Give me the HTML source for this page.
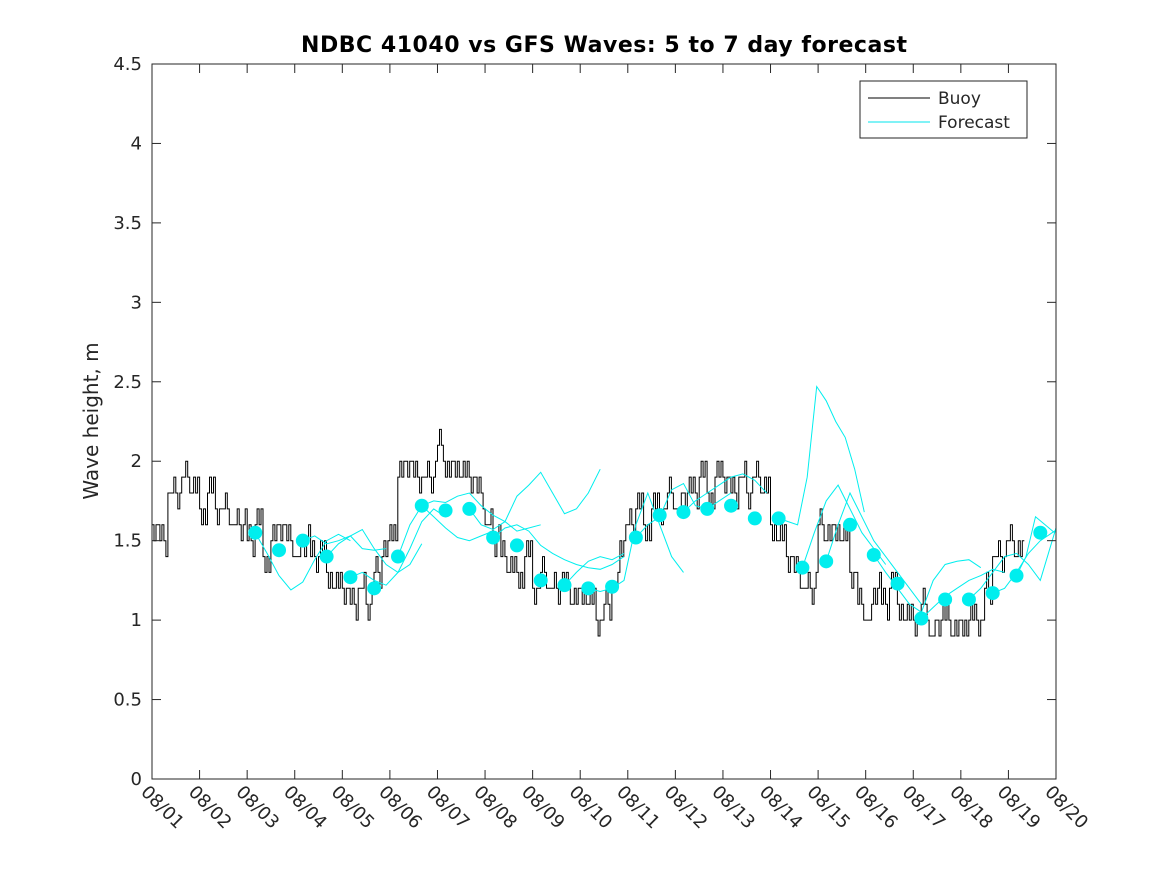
<!DOCTYPE html>
<html><head><meta charset="utf-8"><style>
body{margin:0;background:#fff;}
svg text{font-family:"DejaVu Sans","Liberation Sans",sans-serif;fill:#262626;}
</style></head><body>
<svg id="chart" width="1167" height="875" viewBox="0 0 1167 875" xmlns="http://www.w3.org/2000/svg">
<defs><clipPath id="clip"><rect x="152" y="64" width="904" height="715"/></clipPath></defs>
<rect width="1167" height="875" fill="#fff"/>
<text x="604" y="52" text-anchor="middle" font-size="22" font-weight="bold" style="fill:#000" textLength="606">NDBC 41040 vs GFS Waves: 5 to 7 day forecast</text>
<text transform="translate(98,421) rotate(-90)" text-anchor="middle" font-size="20">Wave height, m</text>
<g id="plot" clip-path="url(#clip)"></g>
<g id="axes"></g>
<g>
<rect x="860" y="81" width="167" height="57" fill="#fff" stroke="#262626" stroke-width="1"/>
<line x1="868" y1="98" x2="930" y2="98" stroke="#000" stroke-width="1"/>
<text x="938" y="104" font-size="17">Buoy</text>
<line x1="868" y1="122" x2="930" y2="122" stroke="#00e5ee" stroke-width="1"/>
<text x="938" y="128" font-size="17">Forecast</text>
</g>
</svg>
<script>
const xTickLabels=["08/01","08/02","08/03","08/04","08/05","08/06","08/07","08/08","08/09","08/10","08/11","08/12","08/13","08/14","08/15","08/16","08/17","08/18","08/19","08/20"];
const yTicks=[0,0.5,1,1.5,2,2.5,3,3.5,4,4.5];
const yTickLabels=["0","0.5","1","1.5","2","2.5","3","3.5","4","4.5"];
// buoy readings, 6 per day starting 08/01
const buoyValues=[
1.6,1.5,1.8,1.8,1.9,1.8, 1.7,1.8,1.7,1.7,1.6,1.6, 1.5,1.6,1.4,1.5,1.6,1.5,
1.4,1.5,1.4,1.4,1.3,1.2, 1.2,1.1,1.2,1.1,1.3,1.4, 1.6,1.9,2.0,1.9,1.9,1.9,
2.1,1.9,2.0,1.9,1.9,1.8, 1.6,1.5,1.4,1.3,1.3,1.4, 1.2,1.3,1.2,1.2,1.2,1.1,
1.2,1.1,1.0,1.1,1.2,1.5, 1.6,1.7,1.6,1.7,1.7,1.8, 1.7,1.8,1.8,1.9,1.8,1.9,
1.9,1.8,1.9,1.8,1.9,1.8, 1.6,1.5,1.4,1.3,1.2,1.2, 1.6,1.5,1.6,1.5,1.3,1.1,
1.0,1.2,1.1,1.2,1.1,1.0, 1.0,1.1,0.9,1.0,1.0,0.9, 1.0,1.0,1.0,1.2,1.4,1.4,
1.5,1.4];
const buoyAlt=[0.1,-0.1,0.1,0,-0.1,0.1,0.1,-0.1];
const dotDays=[2.17,2.67,3.17,3.67,4.17,4.67,5.17,5.67,6.17,6.67,7.17,7.67,8.17,8.67,9.17,9.67,10.17,10.67,11.17,11.67,12.17,12.67,13.17,13.67,14.17,14.67,15.17,15.67,16.17,16.67,17.17,17.67,18.17,18.67];
const dotValues=[1.55,1.44,1.5,1.4,1.27,1.2,1.4,1.72,1.69,1.70,1.52,1.47,1.25,1.22,1.2,1.21,1.52,1.66,1.68,1.70,1.72,1.64,1.64,1.33,1.37,1.6,1.41,1.23,1.01,1.13,1.13,1.17,1.28,1.55];
const segStarts=[2.17,3.17,3.67,4.17,5.17,5.67,6.67,7.17,8.67,9.17,10.17,11.17,13.17,13.67,14.17,15.17,16.17,17.17,17.67,18.17];
const segSteps=[0.25,0.25,0.25,0.25,0.25,0.25,0.25,0.25,0.25,0.25,0.25,0.25,0.2,0.25,0.25,0.25,0.25,0.25,0.25,0.2];
const segValues=[
[1.55,1.42,1.28,1.19,1.24,1.38,1.5,1.54,1.5],
[1.5,1.53,1.48,1.5,1.53,1.45,1.44,1.45],
[1.4,1.48,1.53,1.57,1.45,1.35,1.3,1.35,1.48],
[1.27,1.3,1.25,1.22,1.3,1.45,1.62,1.7,1.65],
[1.4,1.6,1.72,1.65,1.58,1.52,1.5,1.53,1.56],
[1.72,1.75,1.74,1.78,1.8,1.72,1.66,1.62,1.56,1.58,1.6],
[1.7,1.6,1.57,1.62,1.78,1.85,1.93,1.8,1.67,1.7,1.8,1.95],
[1.52,1.58,1.6,1.56,1.47,1.42,1.38,1.35,1.33,1.32,1.35,1.4],
[1.22,1.3,1.37,1.4,1.38,1.42],
[1.2,1.18,1.2,1.25,1.6,1.8,1.6,1.4,1.3],
[1.52,1.6,1.65,1.82,1.86,1.72,1.7,1.75,1.8],
[1.68,1.75,1.8,1.85,1.9,1.92,1.88,1.8],
[1.64,1.62,1.6,1.9,2.47,2.38,2.25,2.15,1.95,1.68],
[1.33,1.55,1.75,1.85,1.7,1.55,1.45,1.35],
[1.37,1.6,1.8,1.65,1.5,1.4,1.3,1.2,1.1],
[1.41,1.3,1.2,1.1,1.05,1.25,1.35,1.37,1.38,1.33],
[1.01,1.08,1.15,1.2,1.25,1.28,1.32,1.3],
[1.13,1.2,1.3,1.4,1.42,1.35,1.25,1.5,1.75,1.9,1.91],
[1.17,1.2,1.3,1.42,1.5,1.55,1.6,1.68,1.75],
[1.28,1.4,1.65,1.6,1.55,1.75,1.9]];
const X0=152,X1=1056,Y0=779,Y1=64,XMAX=19,YMAX=4.5,PERDAY=6;
const xs=d=>X0+(X1-X0)*d/XMAX, ys=v=>Y0-(Y0-Y1)*v/YMAX;
const NS="http://www.w3.org/2000/svg";
const plot=document.getElementById('plot'),axes=document.getElementById('axes');
function mk(t,a,p){const e=document.createElementNS(NS,t);for(const k in a)e.setAttribute(k,a[k]);p.appendChild(e);return e;}
let d="";const SUB=4;
buoyValues.forEach((v,i)=>{for(let s=0;s<SUB;s++){const t=(i+s/SUB)/PERDAY,t2=(i+(s+1)/SUB)/PERDAY;
 const vv=(s%2==1)?Math.max(0.9,v+buoyAlt[(i+s)%8]):v;
 d+=(i||s?"V":"M"+xs(t).toFixed(1)+",")+ys(vv).toFixed(1)+"H"+xs(t2).toFixed(1);}});
const bl=mk('path',{d:d,fill:'none',stroke:'#000','stroke-width':1},plot);


segValues.forEach((vals,j)=>{const pts=vals.map((v,k)=>xs(segStarts[j]+k*segSteps[j]).toFixed(1)+","+ys(v).toFixed(1)).join(" ");
 const pl=mk('polyline',{points:pts,fill:'none',stroke:'#00eeee','stroke-width':1},plot);
 
 });
dotDays.forEach((dd,i)=>{const c=mk('circle',{cx:xs(dd),cy:ys(dotValues[i]),r:7,fill:'#00eeee'},plot);
 
 });
mk('rect',{x:X0,y:Y1,width:X1-X0,height:Y0-Y1,fill:'none',stroke:'#262626','stroke-width':1},axes);
yTicks.forEach((v,i)=>{const y=ys(v);mk('line',{x1:X0,y1:y,x2:X0+9,y2:y,stroke:'#262626'},axes);mk('line',{x1:X1,y1:y,x2:X1-9,y2:y,stroke:'#262626'},axes);
 const t=mk('text',{x:X0-10,y:y+6,'text-anchor':'end','font-size':18},axes);t.textContent=yTickLabels[i];
 
 });
xTickLabels.forEach((lab,i)=>{const x=xs(i);mk('line',{x1:x,y1:Y0,x2:x,y2:Y0-9,stroke:'#262626'},axes);mk('line',{x1:x,y1:Y1,x2:x,y2:Y1+9,stroke:'#262626'},axes);
 const t=mk('text',{transform:`translate(${x-12},${Y0+14}) rotate(45)`,'font-size':18},axes);t.textContent=lab;
 
 });
</script>
</body></html>
